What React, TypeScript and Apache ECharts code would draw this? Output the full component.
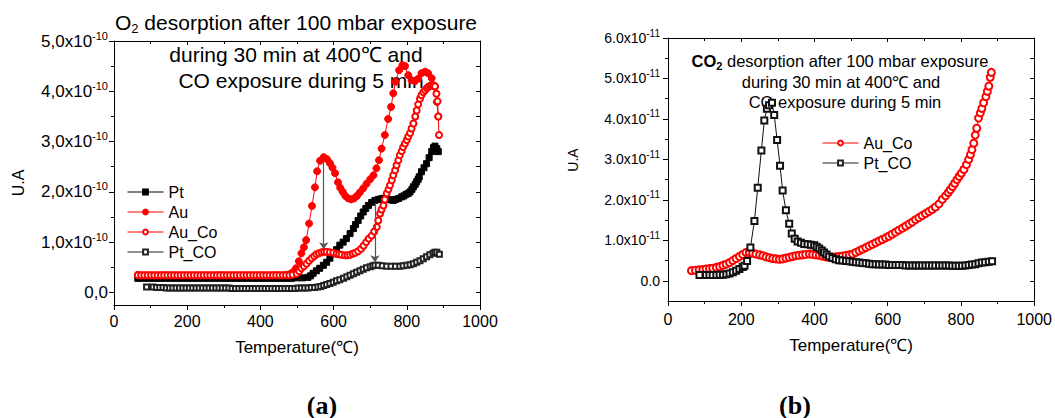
import React, { useEffect, useRef } from 'react';
import * as echarts from 'echarts';

const FONT = '"Liberation Sans", Arial, sans-serif';
const SERIF = '"Liberation Serif", "Times New Roman", serif';

// ---------- tick values ----------
const xMin = 0;
const xMax = 1000;
const xStep = 200;
const leftYMajor = [0, 1, 2, 3, 4, 5];
const leftYMinor = [0.5, 1.5, 2.5, 3.5, 4.5];
const leftYMirror = [0, 0.5, 1, 1.5, 2, 2.5, 3, 3.5, 4, 4.5, 5];
const rightYMajor = [0, 1, 2, 3, 4, 5, 6];
const rightYMinor = [0.5, 1.5, 2.5, 3.5, 4.5, 5.5];
const rightYMirror = [0, 0.5, 1, 1.5, 2, 2.5, 3, 3.5, 4, 4.5, 5, 5.5, 6];

// ---------- (a) O2 desorption, values in units of 1e-10 ----------
const ptA: number[][] = [
  [65, 0.28], [80, 0.28], [95, 0.28], [110, 0.28], [125, 0.28], [140, 0.28], [155, 0.28], [170, 0.28],
  [185, 0.28], [200, 0.28], [215, 0.28], [230, 0.28], [245, 0.28], [260, 0.28], [275, 0.28], [290, 0.28],
  [305, 0.28], [320, 0.28], [335, 0.28], [350, 0.28], [365, 0.28], [380, 0.28], [395, 0.28], [410, 0.28],
  [425, 0.28], [440, 0.28], [455, 0.28], [470, 0.28], [485, 0.28], [500, 0.29], [515, 0.29], [530, 0.30],
  [537, 0.33], [544, 0.38], [553, 0.43], [562, 0.48], [572, 0.54], [581, 0.60], [590, 0.68], [599, 0.77],
  [608, 0.85], [617, 0.94], [626, 1.0], [635, 1.07], [645, 1.17], [654, 1.27], [660, 1.35], [667, 1.43],
  [674, 1.52], [681, 1.6], [688, 1.67], [695, 1.73], [704, 1.79], [713, 1.83], [722, 1.85], [729, 1.86],
  [736, 1.87], [743, 1.86], [749, 1.85], [756, 1.84], [763, 1.83], [770, 1.85], [778, 1.87], [786, 1.9],
  [792, 1.92], [798, 1.95], [804, 1.97], [809, 2.0], [814, 2.05], [818, 2.1], [823, 2.15], [827, 2.2],
  [831, 2.25], [834, 2.3], [840, 2.4], [847, 2.48], [854, 2.56], [861, 2.68], [868, 2.8], [873, 2.88],
  [877, 2.91], [882, 2.86], [886, 2.8],
];

const auA: number[][] = [
  [65, 0.35], [74, 0.34], [83, 0.34], [92, 0.34], [101, 0.34], [110, 0.34], [119, 0.34], [128, 0.34],
  [137, 0.34], [146, 0.34], [155, 0.34], [164, 0.34], [173, 0.34], [182, 0.34], [191, 0.34], [200, 0.34],
  [209, 0.34], [218, 0.34], [227, 0.34], [236, 0.34], [245, 0.34], [254, 0.34], [263, 0.34], [272, 0.34],
  [281, 0.34], [290, 0.34], [299, 0.34], [308, 0.34], [317, 0.34], [326, 0.34], [335, 0.34], [344, 0.34],
  [353, 0.34], [362, 0.34], [371, 0.34], [380, 0.34], [389, 0.34], [398, 0.34], [407, 0.34], [416, 0.34],
  [425, 0.34], [434, 0.34], [443, 0.34], [452, 0.34], [461, 0.34], [470, 0.35], [479, 0.36], [488, 0.4],
  [497, 0.48], [505, 0.62], [512, 0.78], [519, 0.9], [525, 1.04], [533, 1.37], [541, 1.72], [549, 2.09],
  [555, 2.41], [563, 2.62], [573, 2.69], [582, 2.65], [590, 2.57], [597, 2.48], [604, 2.37], [612, 2.19],
  [618, 2.08], [625, 2.0], [632, 1.92], [640, 1.87], [648, 1.85], [656, 1.87], [664, 1.92], [672, 1.99],
  [681, 2.07], [690, 2.16], [700, 2.25], [709, 2.33], [717, 2.47], [724, 2.63], [731, 2.86], [740, 3.13],
  [749, 3.45], [757, 3.69], [763, 3.96], [769, 4.19], [779, 4.42], [788, 4.52], [795, 4.5], [804, 4.32],
  [813, 4.22], [822, 4.2], [831, 4.25], [840, 4.36], [850, 4.39], [858, 4.36], [868, 4.26], [877, 4.09],
  [882, 3.79], [886, 3.5],
];

const auCoA: number[][] = [
  [65, 0.34], [74, 0.34], [83, 0.34], [92, 0.34], [101, 0.34], [110, 0.34], [119, 0.34], [128, 0.34],
  [137, 0.34], [146, 0.34], [155, 0.34], [164, 0.34], [173, 0.34], [182, 0.34], [191, 0.34], [200, 0.34],
  [209, 0.34], [218, 0.34], [227, 0.34], [236, 0.34], [245, 0.34], [254, 0.34], [263, 0.34], [272, 0.34],
  [281, 0.34], [290, 0.34], [299, 0.34], [308, 0.34], [317, 0.34], [326, 0.34], [335, 0.34], [344, 0.34],
  [353, 0.34], [362, 0.34], [371, 0.34], [380, 0.34], [389, 0.34], [398, 0.34], [407, 0.34], [416, 0.34],
  [425, 0.34], [434, 0.34], [443, 0.34], [452, 0.34], [461, 0.34], [470, 0.34], [479, 0.34], [488, 0.35],
  [499, 0.37], [506, 0.42], [512, 0.48], [519, 0.52], [526, 0.57], [533, 0.63], [540, 0.68], [547, 0.72],
  [553, 0.76], [560, 0.78], [567, 0.8], [574, 0.81], [581, 0.81], [590, 0.8], [599, 0.79], [608, 0.77],
  [615, 0.76], [622, 0.75], [631, 0.74], [638, 0.74], [645, 0.75], [652, 0.77], [659, 0.79], [667, 0.82],
  [675, 0.87], [682, 0.93], [689, 1.0], [696, 1.07], [704, 1.13], [711, 1.21], [718, 1.3], [722, 1.43],
  [727, 1.57], [731, 1.65], [736, 1.73], [740, 1.85], [745, 1.97], [750, 2.05], [754, 2.13], [759, 2.23],
  [763, 2.33], [768, 2.43], [772, 2.53], [777, 2.63], [781, 2.73], [786, 2.81], [790, 2.89], [795, 2.96],
  [800, 3.03], [804, 3.1], [809, 3.17], [813, 3.26], [818, 3.36], [823, 3.5], [827, 3.62], [831, 3.74],
  [836, 3.85], [840, 3.92], [845, 3.98], [850, 4.02], [855, 4.06], [859, 4.09], [864, 4.11], [868, 4.12],
  [873, 4.12], [877, 4.1], [881, 3.95], [884, 3.8], [886, 3.5], [888, 3.13],
];

const ptCoA: number[][] = [
  [89, 0.11], [107, 0.11], [116, 0.1], [125, 0.1], [134, 0.1], [143, 0.09], [152, 0.09], [161, 0.09],
  [170, 0.09], [179, 0.09], [188, 0.09], [197, 0.09], [206, 0.09], [215, 0.09], [224, 0.09], [233, 0.09],
  [242, 0.09], [251, 0.09], [260, 0.09], [269, 0.09], [278, 0.09], [287, 0.09], [296, 0.09], [305, 0.09],
  [314, 0.09], [323, 0.08], [332, 0.08], [341, 0.08], [350, 0.08], [359, 0.08], [368, 0.08], [377, 0.08],
  [386, 0.08], [395, 0.08], [404, 0.08], [413, 0.08], [422, 0.08], [431, 0.08], [440, 0.08], [449, 0.08],
  [458, 0.08], [467, 0.08], [476, 0.08], [485, 0.08], [494, 0.08], [503, 0.09], [512, 0.09], [521, 0.09],
  [530, 0.09], [539, 0.1], [548, 0.1], [557, 0.11], [565, 0.12], [573, 0.14], [581, 0.16], [590, 0.18],
  [599, 0.2], [608, 0.23], [617, 0.25], [627, 0.28], [636, 0.31], [645, 0.34], [654, 0.37], [663, 0.4],
  [672, 0.43], [681, 0.46], [690, 0.49], [700, 0.51], [707, 0.53], [713, 0.54], [722, 0.54], [733, 0.53],
  [745, 0.52], [757, 0.52], [769, 0.52], [781, 0.52], [790, 0.53], [800, 0.54], [809, 0.55], [818, 0.57],
  [827, 0.6], [836, 0.63], [845, 0.67], [854, 0.71], [863, 0.75], [872, 0.78], [877, 0.8], [882, 0.8],
  [889, 0.76],
];

// arrows in (a): [temperature, from value, to value]
const arrowsA: number[][] = [
  [573, 2.6, 0.86],
  [713, 1.78, 0.6],
];

// ---------- (b) CO2 desorption, values in units of 1e-11 ----------
const auCoB: number[][] = [
  [64, 0.25], [75, 0.26], [85, 0.27], [95, 0.28], [104, 0.29], [113, 0.3], [122, 0.31], [132, 0.33],
  [141, 0.35], [150, 0.38], [159, 0.41], [168, 0.45], [177, 0.5], [186, 0.55], [195, 0.6], [204, 0.65],
  [213, 0.7], [222, 0.7], [231, 0.68], [240, 0.66], [250, 0.64], [259, 0.62], [268, 0.59], [277, 0.57],
  [286, 0.55], [295, 0.54], [304, 0.53], [313, 0.54], [322, 0.56], [331, 0.58], [340, 0.6], [349, 0.62],
  [358, 0.63], [367, 0.64], [376, 0.65], [386, 0.66], [395, 0.65], [404, 0.64], [413, 0.63], [422, 0.61],
  [431, 0.59], [440, 0.58], [449, 0.58], [458, 0.59], [467, 0.6], [476, 0.61], [486, 0.63], [495, 0.64],
  [504, 0.66], [513, 0.7], [522, 0.74], [531, 0.78], [540, 0.82], [549, 0.86], [558, 0.9], [567, 0.94],
  [576, 0.98], [585, 1.02], [594, 1.06], [603, 1.1], [612, 1.15], [621, 1.2], [630, 1.25], [640, 1.3],
  [649, 1.35], [658, 1.4], [667, 1.45], [676, 1.51], [685, 1.56], [694, 1.61], [703, 1.66], [712, 1.71],
  [721, 1.76], [730, 1.82], [740, 1.9], [749, 2.01], [758, 2.1], [765, 2.18], [771, 2.25], [777, 2.33],
  [783, 2.41], [789, 2.5], [795, 2.58], [801, 2.66], [808, 2.75], [815, 2.87], [821, 3.0], [826, 3.12],
  [830, 3.24], [835, 3.4], [839, 3.6], [843, 3.77], [848, 4.02], [853, 4.15], [857, 4.26], [862, 4.4],
  [868, 4.55], [872, 4.68], [876, 4.81], [880, 5.03], [883, 5.15],
];

const ptCoB: number[][] = [
  [86, 0.14], [104, 0.14], [113, 0.14], [122, 0.14], [132, 0.14], [141, 0.15], [150, 0.15], [159, 0.16],
  [168, 0.18], [177, 0.21], [186, 0.25], [195, 0.29], [204, 0.34], [209, 0.37], [216, 0.49], [225, 0.82],
  [236, 1.48], [245, 2.3], [255, 3.22], [263, 3.96], [270, 4.25], [276, 4.34], [284, 4.4], [290, 4.1],
  [298, 3.48], [306, 2.84], [313, 2.23], [322, 1.74], [331, 1.41], [338, 1.17], [346, 1.04], [354, 0.97],
  [363, 0.94], [372, 0.91], [381, 0.9], [390, 0.89], [399, 0.88], [406, 0.84], [413, 0.8], [420, 0.75],
  [426, 0.7], [433, 0.65], [440, 0.6], [449, 0.56], [458, 0.53], [467, 0.51], [476, 0.5], [486, 0.49],
  [495, 0.48], [504, 0.47], [513, 0.46], [522, 0.45], [531, 0.44], [540, 0.43], [549, 0.42], [558, 0.41],
  [567, 0.41], [576, 0.4], [585, 0.4], [594, 0.4], [603, 0.39], [612, 0.39], [621, 0.39], [630, 0.39],
  [640, 0.39], [649, 0.38], [658, 0.38], [667, 0.38], [676, 0.38], [685, 0.38], [694, 0.38], [703, 0.38],
  [712, 0.38], [721, 0.38], [730, 0.38], [740, 0.38], [749, 0.38], [758, 0.38], [767, 0.38], [776, 0.37],
  [785, 0.37], [794, 0.37], [803, 0.37], [812, 0.38], [821, 0.39], [830, 0.4], [839, 0.41], [848, 0.43],
  [857, 0.45], [866, 0.46], [876, 0.47], [885, 0.48],
];

const legendA = ['Pt', 'Au', 'Au_Co', 'Pt_CO'];
const legendB = ['Au_Co', 'Pt_CO'];

const titleA = ['O2 desorption after 100 mbar exposure', 'during 30 min at 400℃ and', 'CO exposure during 5 min'];
const titleB = ['CO2 desorption after 100 mbar exposure', 'during 30 min at 400℃ and', 'CO exposure during 5 min'];

function buildOption() {
  const black = '#000';
  const red = '#ff0000';

  const xBottom = (grid: number, margin: number, nameGap: number) => ({
    type: 'value', gridIndex: grid, position: 'bottom', min: xMin, max: xMax, interval: xStep,
    axisLine: { show: true, onZero: false, lineStyle: { color: black, width: 1 } },
    axisTick: { show: true, length: 5, lineStyle: { color: black } },
    minorTick: { show: true, splitNumber: 2, length: 3, lineStyle: { color: black } },
    splitLine: { show: false },
    axisLabel: { fontSize: 16, color: black, margin, fontFamily: FONT, formatter: (v: number) => String(v) },
    name: 'Temperature(℃)', nameLocation: 'middle', nameGap,
    nameTextStyle: { fontSize: 17, color: black, fontFamily: FONT },
  });
  const xTop = (grid: number) => ({
    type: 'value', gridIndex: grid, position: 'top', min: xMin, max: xMax, interval: xStep,
    axisLine: { show: true, onZero: false, lineStyle: { color: black, width: 1 } },
    axisTick: { show: true, inside: true, length: 4, lineStyle: { color: black } },
    minorTick: { show: true, splitNumber: 2, length: 3, lineStyle: { color: black } },
    splitLine: { show: false },
    axisLabel: { show: false },
  });
  const yPlain = (grid: number, min: number, max: number, position: string, ticks: number[], len: number, inside: boolean, line: boolean) => ({
    type: 'value', gridIndex: grid, position, min, max,
    axisLine: { show: line, onZero: false, lineStyle: { color: black, width: 1 } },
    axisTick: { show: true, inside, length: len, customValues: ticks, lineStyle: { color: black } },
    axisLabel: { show: false },
    splitLine: { show: false },
  });

  const yMainA = {
    type: 'value', gridIndex: 0, position: 'left', min: -0.25, max: 5,
    axisLine: { show: true, onZero: false, lineStyle: { color: black, width: 1 } },
    axisTick: { show: true, length: 5, customValues: leftYMajor, lineStyle: { color: black } },
    axisLabel: {
      customValues: leftYMajor, margin: 6,
      formatter: (v: number) => (v === 0 ? '{m|0,0}' : `{m|${v},0x10}{s|-10}`),
      rich: {
        m: { fontSize: 17, fontFamily: FONT, color: black, lineHeight: 22 },
        s: { fontSize: 11, fontFamily: FONT, color: black, lineHeight: 12, verticalAlign: 'top' },
      },
    },
    splitLine: { show: false },
  };
  const yMainB = {
    type: 'value', gridIndex: 1, position: 'left', min: -0.5, max: 6,
    axisLine: { show: true, onZero: false, lineStyle: { color: black, width: 1 } },
    axisTick: { show: true, length: 5, customValues: rightYMajor, lineStyle: { color: black } },
    axisLabel: {
      customValues: rightYMajor, margin: 8,
      formatter: (v: number) => (v === 0 ? '{m|0.0}' : `{m|${v}.0x10}{s|-11}`),
      rich: {
        m: { fontSize: 14, fontFamily: FONT, color: black, lineHeight: 20 },
        s: { fontSize: 10, fontFamily: FONT, color: black, lineHeight: 11, verticalAlign: 'top' },
      },
    },
    splitLine: { show: false },
  };

  const lineSeries = (name: string, data: number[][], xi: number, yi: number, symbol: string, size: number, color: string, extra: any = {}) => ({
    type: 'line', name, data, xAxisIndex: xi, yAxisIndex: yi, symbol, symbolSize: size,
    showAllSymbol: true,
    lineStyle: { color, width: 1 },
    itemStyle: { color, borderColor: color, borderWidth: 1 },
    emphasis: { disabled: true },
    ...extra,
  });

  const arrowData = arrowsA.map(([t, a, b]) => [{ coord: [t, a] }, { coord: [t, b] }]);

  const sub = (x: number, y: number, pre: string, rest: string, size: number, subSize: number, bold: boolean) => ({
    type: 'text', x, y,
    style: {
      text: `{p|${pre}}{d|2}{n|${rest}}`,
      align: 'center', verticalAlign: 'middle', fontSize: size, fontFamily: FONT, fill: black,
      rich: {
        p: { fontSize: size, fontFamily: FONT, fill: black, fontWeight: bold ? 'bold' : 'normal', lineHeight: size + 5 },
        d: { fontSize: subSize, fontFamily: FONT, fill: black, fontWeight: bold ? 'bold' : 'normal', verticalAlign: 'bottom', lineHeight: subSize + 2 },
        n: { fontSize: size, fontFamily: FONT, fill: black, lineHeight: size + 5 },
      },
    },
  });
  const plain = (x: number, y: number, text: string, size: number, extra: any = {}) => ({
    type: 'text', x, y, ...extra,
    style: { text, fontSize: size, fontFamily: FONT, fill: black, align: 'center', verticalAlign: 'middle' },
  });

  const legendCommon = {
    orient: 'vertical', padding: 0, itemWidth: 36, itemHeight: 6, itemGap: 0,
    selectedMode: false,
    lineStyle: { width: 1 },
    textStyle: { fontSize: 16, fontFamily: FONT, color: black, lineHeight: 20 },
  };

  return {
    animation: false,
    backgroundColor: '#fff',
    grid: [
      { left: 114, top: 41, width: 366, height: 264, containLabel: false },
      { left: 668, top: 38, width: 368, height: 263, containLabel: false },
    ],
    xAxis: [xBottom(0, 8, 34), xTop(0), xBottom(1, 10, 36), xTop(1)],
    yAxis: [
      yMainA,
      yPlain(0, -0.25, 5, 'left', leftYMinor, 3, false, false),
      yPlain(0, -0.25, 5, 'right', leftYMirror, 4, true, true),
      yMainB,
      yPlain(1, -0.5, 6, 'left', rightYMinor, 3, false, false),
      yPlain(1, -0.5, 6, 'right', rightYMirror, 4, true, true),
    ],
    legend: [
      { ...legendCommon, left: 127, top: 182, data: legendA },
      { ...legendCommon, left: 822, top: 133, data: legendB },
    ],
    series: [
      lineSeries('Pt', ptA, 0, 0, 'rect', 6, black),
      lineSeries('Au', auA, 0, 0, 'circle', 7, red),
      lineSeries('Au_Co', auCoA, 0, 0, 'emptyCircle', 6, red),
      lineSeries('Pt_CO', ptCoA, 0, 0, 'emptyRect', 5, '#222', {
        markLine: {
          silent: true, symbol: ['none', 'arrow'], symbolSize: 7,
          lineStyle: { color: '#555', width: 1.2, type: 'solid' },
          label: { show: false }, emphasis: { disabled: true },
          data: arrowData,
        },
      }),
      lineSeries('Au_Co', auCoB, 2, 3, 'emptyCircle', 7, red),
      lineSeries('Pt_CO', ptCoB, 2, 3, 'emptyRect', 6, '#111'),
    ],
    graphic: [
      sub(296, 22, 'O', titleA[0].slice(2), 21, 13, false),
      plain(296, 54, titleA[1], 21),
      plain(301, 80, titleA[2], 21),
      sub(840, 61, 'CO', titleB[0].slice(3), 16.5, 11, true),
      plain(841, 82, titleB[1], 16.5),
      plain(845, 102, titleB[2], 16.5),
      plain(18, 183, 'U.A', 16, { rotation: Math.PI / 2 }),
      plain(573, 160, 'U.A', 14, { rotation: Math.PI / 2 }),
      {
        type: 'text', x: 322, y: 405,
        style: { text: '(a)', fontSize: 26, fontWeight: 'bold', fontFamily: SERIF, fill: black, align: 'center', verticalAlign: 'middle' },
      },
      {
        type: 'text', x: 795, y: 405,
        style: { text: '(b)', fontSize: 26, fontWeight: 'bold', fontFamily: SERIF, fill: black, align: 'center', verticalAlign: 'middle' },
      },
    ],
  };
}

export default function App() {
  const ref = useRef<HTMLDivElement>(null);
  useEffect(() => {
    const chart = echarts.init(ref.current as HTMLDivElement, null, { renderer: 'svg' });
    chart.setOption(buildOption() as any);
    return () => chart.dispose();
  }, []);
  return (
    <div
      ref={ref}
      style={{ position: 'fixed', left: 0, top: 0, width: 1055, height: 418, background: '#fff' }}
    />
  );
}
